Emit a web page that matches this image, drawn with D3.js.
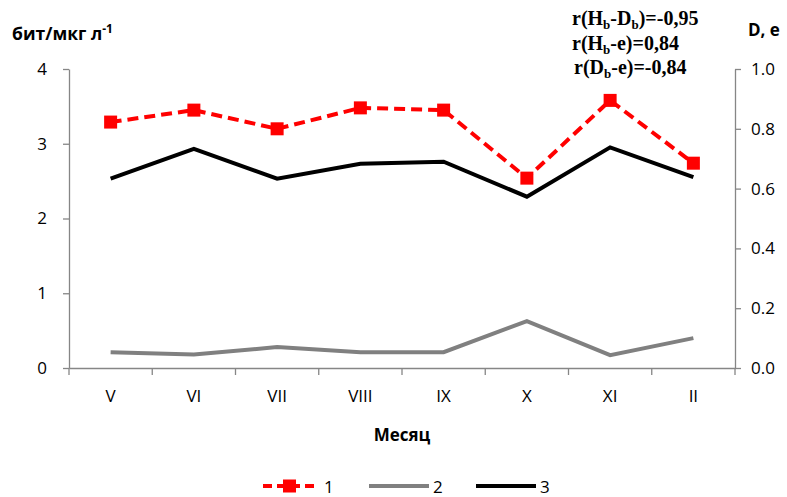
<!doctype html>
<html lang="en">
<head>
  <meta charset="utf-8">
  <style>
    body { margin: 0; background: #fff; }
    text { font-family: "Open Sans", "Noto Sans", sans-serif; fill: #000; }
    .corr { font-family: "Liberation Serif", serif; font-weight: bold; font-size: 20px; }
  </style>
</head>
<body>
  <script src="https://d3js.org/d3.v7.min.js"></script>
  <div id="chart"></div>
  <script>
    // data
    var months = ["V", "VI", "VII", "VIII", "IX", "X", "XI", "II"];
    var series1 = [3.29, 3.45, 3.20, 3.48, 3.45, 2.54, 3.58, 2.74];        // left axis
    var series2 = [0.053, 0.045, 0.070, 0.053, 0.053, 0.157, 0.043, 0.100]; // right axis
    var series3 = [0.633, 0.733, 0.633, 0.683, 0.690, 0.573, 0.738, 0.638]; // right axis
    var leftTicks = [0, 1, 2, 3, 4];
    var rightTicks = [0, 0.2, 0.4, 0.6, 0.8, 1.0];

    var width = 787, height = 497;
    var margin = {top: 69, right: 52, bottom: 129, left: 69};

    var svg = d3.select("#chart").append("svg")
        .attr("width", width).attr("height", height);

    var x = d3.scaleBand().domain(months)
        .range([margin.left, width - margin.right]);
    var yL = d3.scaleLinear().domain([0, 4]).range([height - margin.bottom, margin.top]);
    var yR = d3.scaleLinear().domain([0, 1]).range([height - margin.bottom, margin.top]);

    var axisColor = "#868686";

    // x axis
    var gx = svg.append("g")
        .attr("transform", "translate(0," + (height - margin.bottom) + ")")
        .call(d3.axisBottom(x).tickSize(0).tickPadding(22));
    gx.select(".domain").attr("stroke", axisColor).attr("stroke-width", 1.3);
    gx.selectAll("text").style("font-size", "17px");
    // tick marks between categories
    var edges = months.map(function(m) { return x(m); }).concat([x.range()[1]]);
    gx.selectAll(".sep").data(edges).enter().append("line")
        .attr("x1", function(d) { return d; }).attr("x2", function(d) { return d; })
        .attr("y1", 0).attr("y2", 7)
        .attr("stroke", axisColor).attr("stroke-width", 1.3);

    // left axis
    var gl = svg.append("g")
        .attr("transform", "translate(" + margin.left + ",0)")
        .call(d3.axisLeft(yL).tickValues(leftTicks).tickFormat(d3.format("d")).tickSizeInner(6).tickSizeOuter(0).tickPadding(16));
    gl.select(".domain").attr("stroke", axisColor).attr("stroke-width", 1.3);
    gl.selectAll("line").attr("stroke", axisColor).attr("stroke-width", 1.3);
    gl.selectAll("text").style("font-size", "17px");

    // right axis
    var gr = svg.append("g")
        .attr("transform", "translate(" + (width - margin.right) + ",0)")
        .call(d3.axisRight(yR).tickValues(rightTicks).tickFormat(d3.format(".1f")).tickSizeInner(6).tickSizeOuter(0).tickPadding(10));
    gr.select(".domain").attr("stroke", axisColor).attr("stroke-width", 1.3);
    gr.selectAll("line").attr("stroke", axisColor).attr("stroke-width", 1.3);
    gr.selectAll("text").style("font-size", "17px");

    var cx = function(d, i) { return x(months[i]) + x.bandwidth() / 2; };

    // series 2 (gray)
    svg.append("path").datum(series2)
        .attr("fill", "none").attr("stroke", "#808080").attr("stroke-width", 4)
        .attr("d", d3.line().x(cx).y(function(d) { return yR(d); }));

    // series 3 (black)
    svg.append("path").datum(series3)
        .attr("fill", "none").attr("stroke", "#000").attr("stroke-width", 4)
        .attr("d", d3.line().x(cx).y(function(d) { return yR(d); }));

    // series 1 (red dashed with squares)
    svg.append("path").datum(series1)
        .attr("fill", "none").attr("stroke", "#ff0000").attr("stroke-width", 4)
        .attr("stroke-dasharray", "11,6")
        .attr("d", d3.line().x(cx).y(function(d) { return yL(d); }));
    svg.selectAll(".m1").data(series1).enter().append("rect")
        .attr("x", function(d, i) { return cx(d, i) - 6.5; })
        .attr("y", function(d) { return yL(d) - 6.5; })
        .attr("width", 13).attr("height", 13)
        .attr("fill", "#ff0000");

    // axis titles
    var lt = svg.append("text").attr("x", 12).attr("y", 40)
        .style("font-size", "17.5px").style("font-weight", "bold");
    lt.append("tspan").text("бит/мкг л");
    lt.append("tspan").attr("dy", -7).style("font-size", "12px").text("-1");

    svg.append("text").attr("x", 748).attr("y", 36)
        .style("font-size", "17px").style("font-weight", "bold").text("D, e");

    svg.append("text").attr("x", (margin.left + width - margin.right) / 2).attr("y", 441)
        .attr("text-anchor", "middle")
        .style("font-size", "17px").style("font-weight", "bold").text("Месяц");

    // correlation notes
    var corr = [
      {y: 25, parts: [["r(H", 0], ["b", 1], ["-D", 0], ["b", 1], [")=-0,95", 0]], x: 572},
      {y: 50, parts: [["r(H", 0], ["b", 1], ["-e)=0,84", 0]], x: 572},
      {y: 74, parts: [["r(D", 0], ["b", 1], ["-e)=-0,84", 0]], x: 574}
    ];
    corr.forEach(function(c) {
      var t = svg.append("text").attr("class", "corr").attr("x", c.x).attr("y", c.y);
      var prevSub = 0;
      c.parts.forEach(function(p) {
        var dy = (p[1] - prevSub) * 4;
        t.append("tspan").attr("dy", dy)
          .style("font-size", p[1] ? "13px" : "20px").text(p[0]);
        prevSub = p[1];
      });
    });

    // legend
    var ly = 486;
    var lg = svg.append("g");
    lg.append("line").attr("x1", 263).attr("x2", 316).attr("y1", ly).attr("y2", ly)
      .attr("stroke", "#ff0000").attr("stroke-width", 4).attr("stroke-dasharray", "9,5");
    lg.append("rect").attr("x", 283).attr("y", ly - 6.5).attr("width", 13).attr("height", 13).attr("fill", "#ff0000");
    lg.append("text").attr("x", 324).attr("y", ly + 7).style("font-size", "17px").text("1");
    lg.append("line").attr("x1", 369).attr("x2", 429).attr("y1", ly).attr("y2", ly)
      .attr("stroke", "#808080").attr("stroke-width", 4);
    lg.append("text").attr("x", 433).attr("y", ly + 7).style("font-size", "17px").text("2");
    lg.append("line").attr("x1", 476).attr("x2", 536).attr("y1", ly).attr("y2", ly)
      .attr("stroke", "#000").attr("stroke-width", 4);
    lg.append("text").attr("x", 540).attr("y", ly + 7).style("font-size", "17px").text("3");
  </script>
</body>
</html>
